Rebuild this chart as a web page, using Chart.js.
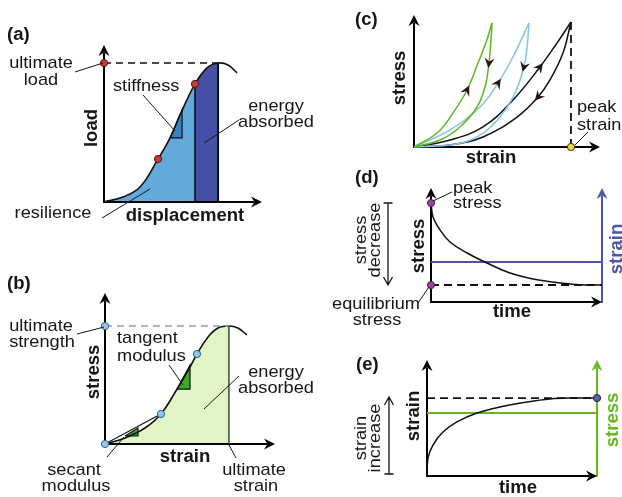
<!DOCTYPE html>
<html>
<head>
<meta charset="utf-8">
<script src="https://cdn.jsdelivr.net/npm/chart.js@4.4.0/dist/chart.umd.min.js"></script>
<style>
  html, body { margin: 0; padding: 0; background: #fff; }
  #wrap { position: relative; width: 622px; height: 497px; }
  #wrap canvas { position: absolute; left: 0; top: 0; }
</style>
</head>
<body>
<div id="wrap">
  <canvas id="pa" width="622" height="497"></canvas>
  <canvas id="pb" width="622" height="497"></canvas>
  <canvas id="pc" width="622" height="497"></canvas>
  <canvas id="pd" width="622" height="497"></canvas>
  <canvas id="pe" width="622" height="497"></canvas>
</div>
<script>
// ---- data (all axes run 0..100, schematic units) ----

// (a) load vs displacement
const dispA = [0, 12, 22.8, 34.2, 41.8, 48.1, 57.6, 65.2, 72.2, 78.5, 84.2];
const loadA = [0, 3.2, 9.6, 27.4, 40.8, 55.4, 75.2, 85.4, 88.5, 87.3, 82.2];
const resilIdxA = 3, stiffIdxA = 6, peakIdxA = 8;
const stiffTriX = [41.8, 49.4, 49.4, 41.8];
const stiffTriY = [40.8, 40.8, 58.6, 40.8];

// (b) stress vs strain
const strainB = [0, 11.8, 23.5, 32.9, 42.4, 50, 54.1, 60.6, 66.5, 72.9, 78.2, 83.5];
const stressB = [0, 4.0, 10.6, 19.9, 36.4, 51, 59.6, 70.9, 76.8, 78.1, 76.8, 72.2];
const secantIdxB = 3, tangentIdxB = 6, peakIdxB = 9;
const tanTriX = [42.4, 50, 50, 42.4];
const tanTriY = [36.4, 36.4, 52.3, 36.4];
const secTriX = [11.8, 19.4, 19.4, 11.8];
const secTriY = [5.3, 5.3, 10.6, 5.3];

// (c) loading / unloading loops
const greenLoadX = [0, 12.4, 21, 28.5, 34.4, 39.2, 41.9];
const greenLoadY = [0, 10.6, 25.8, 43.2, 63.6, 81.1, 93.9];
const greenUnloadX = [41.9, 41.4, 40.3, 38.2, 33.9, 24.7, 14, 0];
const greenUnloadY = [93.9, 81.1, 63.6, 45.5, 30.3, 15.2, 5.3, 0];
const blueLoadX = [0, 19.4, 35.5, 45.2, 53.2, 61.8];
const blueLoadY = [0, 12.9, 30.3, 48.5, 68.2, 93.9];
const blueUnloadX = [61.8, 60.8, 59.1, 54.3, 46.2, 33.9, 19.4, 0];
const blueUnloadY = [93.9, 75.8, 60.6, 40.9, 22.7, 7.6, 1.5, 0];
const blackLoadX = [0, 19.4, 37.1, 53.2, 67.7, 76.9, 84.4];
const blackLoadY = [0, 5.3, 15.2, 35.6, 60.6, 78.8, 94.7];
const blackUnloadX = [84.4, 80.1, 73.1, 66.7, 55.4, 37.1, 19.4, 0];
const blackUnloadY = [94.7, 71.2, 50.8, 37.9, 22.7, 7.6, 1.5, 0];
const peakStrainC = 84.4;

// (d) stress relaxation
const timeD = [0, 1.2, 5.3, 11.1, 21.1, 32.7, 46.2, 59.6, 75.4, 91.2, 100];
const stressD = [86.8, 74.6, 63.2, 52.6, 43, 34.2, 25.4, 20.2, 16.7, 14.9, 14.9];
const strainLevelD = 35.1;

// (e) creep
const timeE = [0, 0.6, 3.5, 9.4, 17.6, 29.4, 42.9, 58.8, 72.4, 85.9, 100];
const strainE = [3.4, 15.5, 26.7, 37.9, 46.6, 54.3, 59.5, 63.8, 66.4, 67.2, 67.2];
const stressLevelE = 54.3;

// ---- drawing helpers ----
const W = 622, H = 497;
const FONT = '"Liberation Sans", Arial, Helvetica, sans-serif';
const INK = '#161616';

function pts(xs, ys) {
  return xs.map((x, i) => ({ x: x, y: ys[i] }));
}

function lineSet(xs, ys, color, width, more) {
  return Object.assign({
    data: pts(xs, ys), showLine: true, borderColor: color, borderWidth: width,
    backgroundColor: 'rgba(0,0,0,0)', pointRadius: 0, pointHoverRadius: 0,
    tension: 0, fill: false, clip: false
  }, more || {});
}

function dotSet(xs, ys, color, edge) {
  return {
    data: pts(xs, ys), showLine: false, pointRadius: 3.6, pointHoverRadius: 3.6,
    pointBackgroundColor: color, pointBorderColor: edge || '#2a2a2a', pointBorderWidth: 1,
    clip: false, order: -1
  };
}

function stealth(ctx, x, y, ang, len, half, notch) {
  ctx.save();
  ctx.translate(x, y);
  ctx.rotate(ang);
  ctx.beginPath();
  ctx.moveTo(0, 0);
  ctx.lineTo(-len, -half);
  ctx.lineTo(-len + notch, 0);
  ctx.lineTo(-len, half);
  ctx.closePath();
  ctx.fill();
  ctx.restore();
}

// text helpers
const L = (t, x, y) => ({ t, x, y, al: 'left' });
const C = (t, x, y) => ({ t, x, y, al: 'center' });
const B = (t, x, y, al) => ({ t, x, y, b: true, al: al || 'center' });
const V = (t, x, y, bold, color) => ({ t, x, y, b: bold, rot: true, al: 'center', c: color });

const decor = {
  pa: {
    texts: [
      B('(a)', 7, 40, 'left'),
      C('ultimate', 41, 68), C('load', 41, 85),
      L('stiffness', 113, 91),
      C('energy', 276, 111), C('absorbed', 276, 127),
      C('resilience', 53, 218),
      B('displacement', 185, 221),
      V('load', 97, 128, true)
    ],
    leaders: [[75, 72, 103, 63], [143, 95, 175, 131], [204, 143, 239, 120], [102, 218, 150, 189]]
  },
  pb: {
    texts: [
      B('(b)', 7, 289, 'left'),
      C('ultimate', 41, 331), C('strength', 42, 347),
      L('tangent', 117, 343), L('modulus', 117, 361),
      C('energy', 276, 377), C('absorbed', 276, 393),
      C('secant', 74, 475), C('modulus', 76, 491),
      C('ultimate', 254, 475), C('strain', 256, 491),
      B('strain', 185, 462),
      V('stress', 99, 372, true)
    ],
    leaders: [[77, 334, 104, 327], [169, 365, 183, 385], [204, 409, 239, 376], [107, 457, 124, 437], [229, 445, 236, 458]]
  },
  pc: {
    texts: [
      B('(c)', 355, 25, 'left'),
      V('stress', 405, 78, true),
      B('strain', 491, 163),
      L('peak', 577, 112), L('strain', 577, 130)
    ],
    leaders: [[575, 145, 588, 132]],
    marks: [[0, 3], [1, 2], [2, 3], [3, 2], [4, 4], [5, 3]]
  },
  pd: {
    texts: [
      B('(d)', 355, 183, 'left'),
      L('peak', 453, 193), L('stress', 453, 208),
      V('stress', 424, 246, true),
      V('strain', 622, 249, true, '#4b56a8'),
      B('time', 512, 317),
      V('stress', 366, 240), V('decrease', 380, 240),
      C('equilibrium', 376, 309), C('stress', 377, 325)
    ],
    leaders: [[433, 201, 452, 192], [418, 303, 429, 287]],
    bracket: [388, 203, 285],
    rightAxis: '#4b56a8'
  },
  pe: {
    texts: [
      B('(e)', 356, 370, 'left'),
      V('strain', 366, 438), V('increase', 380, 438),
      V('strain', 419, 416, true),
      V('stress', 618, 420, true, '#66b81e'),
      B('time', 518, 493)
    ],
    leaders: [],
    bracket: [389, 474, 397],
    rightAxis: '#66b81e'
  }
};

const decorPlugin = {
  id: 'decor',
  beforeDatasetsDraw(chart) {
    const d = decor[chart.canvas.id];
    const ctx = chart.ctx, a = chart.chartArea;
    ctx.save();
    ctx.lineWidth = 2;
    if (d.rightAxis) {
      ctx.strokeStyle = d.rightAxis;
      ctx.fillStyle = d.rightAxis;
      ctx.beginPath();
      ctx.moveTo(a.right, a.bottom + 1);
      ctx.lineTo(a.right, a.top + 8);
      ctx.stroke();
      stealth(ctx, a.right, a.top, -Math.PI / 2, 11, 5.5, 3.5);
    }
    ctx.strokeStyle = '#000';
    ctx.fillStyle = '#000';
    ctx.beginPath();
    ctx.moveTo(a.left, a.bottom + 1);
    ctx.lineTo(a.left, a.top + 8);
    ctx.moveTo(a.left - 1, a.bottom);
    ctx.lineTo(a.right - 8, a.bottom);
    ctx.stroke();
    stealth(ctx, a.left, a.top, -Math.PI / 2, 11, 5.5, 3.5);
    stealth(ctx, a.right, a.bottom, 0, 11, 5.5, 3.5);
    ctx.restore();
  },
  afterDraw(chart) {
    const d = decor[chart.canvas.id];
    const ctx = chart.ctx;
    ctx.save();
    // leader lines
    ctx.strokeStyle = INK;
    ctx.lineWidth = 1;
    d.leaders.forEach(l => {
      ctx.beginPath();
      ctx.moveTo(l[0], l[1]);
      ctx.lineTo(l[2], l[3]);
      ctx.stroke();
    });
    // bracket arrow (bar at one end, open head at the other)
    if (d.bracket) {
      const [x, y0, y1] = d.bracket;
      const dir = y1 > y0 ? 1 : -1;
      ctx.lineWidth = 1.3;
      ctx.beginPath();
      ctx.moveTo(x - 4.5, y0); ctx.lineTo(x + 4.5, y0);
      ctx.moveTo(x, y0); ctx.lineTo(x, y1);
      ctx.moveTo(x - 4.5, y1 - dir * 8); ctx.lineTo(x, y1); ctx.lineTo(x + 4.5, y1 - dir * 8);
      ctx.stroke();
    }
    // direction arrows on the curves
    if (d.marks) {
      ctx.fillStyle = '#2a1414';
      d.marks.forEach(m => {
        const els = chart.getDatasetMeta(m[0]).data;
        const p = els[m[1]], p0 = els[m[1] - 1], p1 = els[m[1] + 1];
        const ang = Math.atan2(p1.y - p0.y, p1.x - p0.x);
        stealth(ctx, p.x + Math.cos(ang) * 5, p.y + Math.sin(ang) * 5, ang, 10, 5, 3.5);
      });
    }
    // texts (slightly widened, as in the original artwork)
    d.texts.forEach(it => {
      ctx.save();
      ctx.font = (it.b ? 'bold 18px ' : '17px ') + FONT;
      ctx.fillStyle = it.c || INK;
      ctx.textAlign = it.al;
      ctx.textBaseline = 'alphabetic';
      ctx.translate(it.x, it.y);
      if (it.rot) ctx.rotate(-Math.PI / 2);
      ctx.scale(it.b ? 1.03 : 1.07, 1);
      ctx.fillText(it.t, 0, 0);
      ctx.restore();
    });
    ctx.restore();
  }
};

function makeChart(id, box, datasets) {
  return new Chart(document.getElementById(id), {
    type: 'scatter',
    data: { datasets: datasets },
    options: {
      responsive: false,
      animation: false,
      devicePixelRatio: 1,
      events: [],
      layout: { padding: { left: box[0], top: box[1], right: W - box[2], bottom: H - box[3] } },
      scales: {
        x: { type: 'linear', display: false, min: 0, max: 100 },
        y: { type: 'linear', display: false, min: 0, max: 100 }
      },
      plugins: {
        legend: { display: false },
        tooltip: { enabled: false },
        filler: { drawTime: 'beforeDatasetsDraw' }
      }
    },
    plugins: [decorPlugin]
  });
}

// ---- (a) ----
makeChart('pa', [104, 45, 262, 202], [
  lineSet(dispA, loadA, '#111', 1.6, {
    tension: 0.4, fill: 'origin', order: 3,
    segment: {
      backgroundColor: c => c.p0DataIndex < stiffIdxA ? '#62a9dc'
        : (c.p0DataIndex < peakIdxA ? '#454fa6' : 'rgba(0,0,0,0)')
    }
  }),
  lineSet([dispA[stiffIdxA], dispA[stiffIdxA]], [0, loadA[stiffIdxA]], '#111', 1.6, { order: 2 }),
  lineSet([dispA[peakIdxA], dispA[peakIdxA]], [0, loadA[peakIdxA]], '#111', 2, { order: 2 }),
  lineSet([0, dispA[peakIdxA]], [loadA[peakIdxA], loadA[peakIdxA]], '#111', 1.5, { borderDash: [7, 5], order: 2 }),
  lineSet(stiffTriX, stiffTriY, '#111', 1.2, { fill: 'shape', backgroundColor: '#3a82c6', order: 1 }),
  dotSet([0, dispA[stiffIdxA], dispA[resilIdxA]], [loadA[peakIdxA], loadA[stiffIdxA], loadA[resilIdxA]], '#e0302a')
]);

// ---- (b) ----
makeChart('pb', [105, 293, 275, 444], [
  lineSet(strainB, stressB, '#111', 1.6, {
    tension: 0.4, fill: 'origin', order: 4,
    segment: { backgroundColor: c => c.p0DataIndex < peakIdxB ? '#e2f5c6' : 'rgba(0,0,0,0)' }
  }),
  lineSet([0, strainB[secantIdxB]], [0, stressB[secantIdxB]], '#111', 1.1, { fill: 0, backgroundColor: '#ffffff', order: 3 }),
  lineSet([strainB[peakIdxB], strainB[peakIdxB]], [0, stressB[peakIdxB]], '#444', 1.5, { order: 2 }),
  lineSet([0, strainB[peakIdxB]], [stressB[peakIdxB], stressB[peakIdxB]], '#9a9a9a', 1.5, { borderDash: [7, 5], order: 2 }),
  lineSet(tanTriX, tanTriY, '#111', 1.2, { fill: 'shape', backgroundColor: '#3caa26', order: 1 }),
  lineSet(secTriX, secTriY, '#111', 1.2, { fill: 'shape', backgroundColor: '#3caa26', order: 1 }),
  dotSet([0, 0, strainB[secantIdxB], strainB[tangentIdxB]], [stressB[peakIdxB], 0, stressB[secantIdxB], stressB[tangentIdxB]], '#8dcbee', '#2d5f85')
]);

// ---- (c) ----
makeChart('pc', [414, 15, 600, 147], [
  lineSet(greenLoadX, greenLoadY, '#5cb81c', 1.5, { tension: 0.4 }),
  lineSet(greenUnloadX, greenUnloadY, '#5cb81c', 1.5, { tension: 0.4 }),
  lineSet(blueLoadX, blueLoadY, '#80c4e8', 1.5, { tension: 0.4 }),
  lineSet(blueUnloadX, blueUnloadY, '#80c4e8', 1.5, { tension: 0.4 }),
  lineSet(blackLoadX, blackLoadY, '#111', 1.5, { tension: 0.4 }),
  lineSet(blackUnloadX, blackUnloadY, '#111', 1.5, { tension: 0.4 }),
  lineSet([peakStrainC, peakStrainC], [0, blackLoadY[blackLoadY.length - 1]], '#111', 1.8, { borderDash: [8, 5] }),
  dotSet([peakStrainC], [0], '#f5d83a', '#333')
]);

// ---- (d) ----
makeChart('pd', [431, 188, 602, 302], [
  lineSet(timeD, stressD, '#111', 1.5, { tension: 0.4, order: 1 }),
  lineSet([0, 100], [strainLevelD, strainLevelD], '#4b56a8', 2, { order: 2 }),
  lineSet([0, 100], [stressD[stressD.length - 1], stressD[stressD.length - 1]], '#111', 1.8, { borderDash: [8, 5], order: 2 }),
  dotSet([0, 0], [stressD[0], stressD[stressD.length - 1]], '#a43aa4', '#333')
]);

// ---- (e) ----
makeChart('pe', [427, 360, 597, 476], [
  lineSet(timeE, strainE, '#111', 1.5, { tension: 0.4, order: 1 }),
  lineSet([0, 100], [stressLevelE, stressLevelE], '#66b81e', 2, { order: 2 }),
  lineSet([0, 100], [strainE[strainE.length - 1], strainE[strainE.length - 1]], '#111', 1.8, { borderDash: [8, 5], order: 2 }),
  dotSet([100], [strainE[strainE.length - 1]], '#5a62b0', '#222')
]);
</script>
</body>
</html>
